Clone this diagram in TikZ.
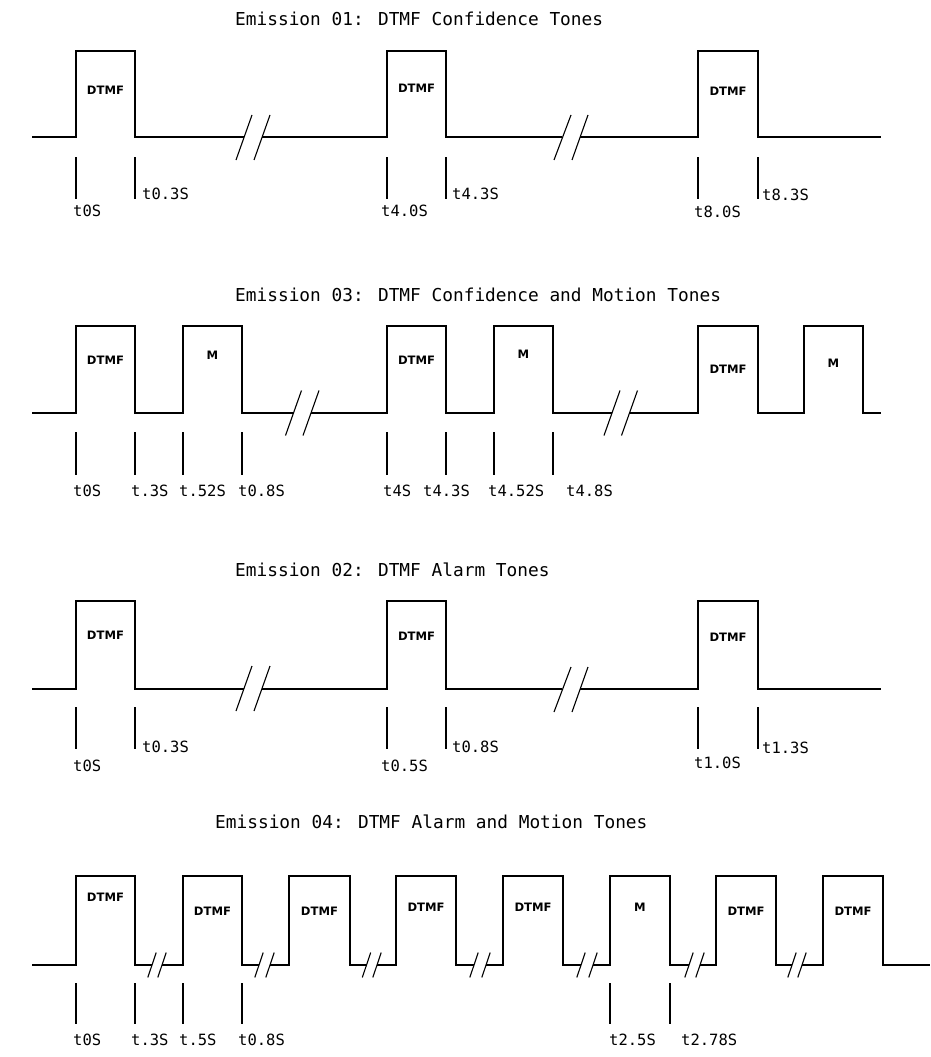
\documentclass[tikz,border=0pt]{standalone}
\usepackage{fontspec}
\usepackage{tikz}
\usetikzlibrary{positioning}
\newfontfamily\camfont{DejaVu Sans Mono}
\newfontfamily\tonefont{DejaVu Sans}

\begin{document}
\begin{tikzpicture}[
	x=1pt, y=-1pt,
	wave/.style={line width=1.1pt, line join=miter},
	edgeline/.style={line width=1.1pt},
	brk/.style={line width=1.1pt},
	title/.style={anchor=base west, inner sep=0pt, font=\camfont\fontsize{17.8}{20}\selectfont},
	time/.style={anchor=base west, inner sep=0pt, font=\camfont\fontsize{15.5}{18}\selectfont},
	tone/.style={inner sep=0pt, font=\tonefont\bfseries\fontsize{11.6}{13}\selectfont}
	]
	\useasboundingbox [fill=white] (0,0) rectangle (931,1057);

	% Emission 01
	\node [title] (titleA) at (235,26) {Emission 01: DTMF Confidence Tones};
	\draw [wave] (32,137) -- (76,137) -- (76,51) -- (135,51) -- (135,137) -- (244,137);
	\draw [wave] (262,137) -- (387,137) -- (387,51) -- (446,51) -- (446,137) -- (562,137);
	\draw [wave] (580,137) -- (698,137) -- (698,51) -- (758,51) -- (758,137) -- (881,137);
	\draw [brk] (236,160) -- (252,115);
	\draw [brk] (254,160) -- (270,115);
	\draw [brk] (554,160) -- (571,115);
	\draw [brk] (572,160) -- (588,115);
	\node [tone] (toneA1) at (105.5,90) {DTMF};
	\node [tone] (toneA2) at (416.5,88) {DTMF};
	\node [tone] (toneA3) at (728,91) {DTMF};
	\draw [edgeline] (76,157) -- (76,199);
	\draw [edgeline] (135,157) -- (135,199);
	\draw [edgeline] (387,157) -- (387,199);
	\draw [edgeline] (446,157) -- (446,199);
	\draw [edgeline] (698,157) -- (698,199);
	\draw [edgeline] (758,157) -- (758,199);
	\node [time] (tA1) at (73,216) {t0S};
	\node [time] (tA2) at (142,199) {t0.3S};
	\node [time] (tA3) at (381,216) {t4.0S};
	\node [time] (tA4) at (452,199) {t4.3S};
	\node [time] (tA5) at (694,217) {t8.0S};
	\node [time] (tA6) at (762,200) {t8.3S};

	% Emission 03
	\node [title] (titleB) at (235,301) {Emission 03: DTMF Confidence and Motion Tones};
	\draw [wave] (32,413) -- (76,413) -- (76,326) -- (135,326) -- (135,413) -- (183,413) -- (183,326) -- (242,326) -- (242,413) -- (293.5,413);
	\draw [wave] (311,413) -- (387,413) -- (387,326) -- (446,326) -- (446,413) -- (494,413) -- (494,326) -- (553,326) -- (553,413) -- (612,413);
	\draw [wave] (629.5,413) -- (698,413) -- (698,326) -- (758,326) -- (758,413) -- (804,413) -- (804,326) -- (863,326) -- (863,413) -- (881,413);
	\draw [brk] (285.5,435.5) -- (301.5,390.5);
	\draw [brk] (303,435.5) -- (319,390.5);
	\draw [brk] (604,435.5) -- (620,390.5);
	\draw [brk] (621.5,435.5) -- (637.5,390.5);
	\node [tone] (toneB1) at (105.5,360) {DTMF};
	\node [tone] (toneB2) at (212.5,355) {M};
	\node [tone] (toneB3) at (416.5,360) {DTMF};
	\node [tone] (toneB4) at (523.5,354) {M};
	\node [tone] (toneB5) at (728,369) {DTMF};
	\node [tone] (toneB6) at (833.5,363) {M};
	\draw [edgeline] (76,432) -- (76,475);
	\draw [edgeline] (135,432) -- (135,475);
	\draw [edgeline] (183,432) -- (183,475);
	\draw [edgeline] (242,432) -- (242,475);
	\draw [edgeline] (387,432) -- (387,475);
	\draw [edgeline] (446,432) -- (446,475);
	\draw [edgeline] (494,432) -- (494,475);
	\draw [edgeline] (553,432) -- (553,475);
	\node [time] (tB1) at (73,496) {t0S};
	\node [time] (tB2) at (131,496) {t.3S};
	\node [time] (tB3) at (179,496) {t.52S};
	\node [time] (tB4) at (238,496) {t0.8S};
	\node [time] (tB5) at (383,496) {t4S};
	\node [time] (tB6) at (423,496) {t4.3S};
	\node [time] (tB7) at (488,496) {t4.52S};
	\node [time] (tB8) at (566,496) {t4.8S};

	% Emission 02
	\node [title] (titleC) at (235,576) {Emission 02: DTMF Alarm Tones};
	\draw [wave] (32,689) -- (76,689) -- (76,601) -- (135,601) -- (135,689) -- (244,689);
	\draw [wave] (262,689) -- (387,689) -- (387,601) -- (446,601) -- (446,689) -- (562,689);
	\draw [wave] (580,689) -- (698,689) -- (698,601) -- (758,601) -- (758,689) -- (881,689);
	\draw [brk] (236,711) -- (252,666);
	\draw [brk] (254,711) -- (270,666);
	\draw [brk] (554,712) -- (571,667);
	\draw [brk] (572,712) -- (588,667);
	\node [tone] (toneC1) at (105.5,635) {DTMF};
	\node [tone] (toneC2) at (416.5,636) {DTMF};
	\node [tone] (toneC3) at (728,637) {DTMF};
	\draw [edgeline] (76,707) -- (76,749);
	\draw [edgeline] (135,707) -- (135,749);
	\draw [edgeline] (387,707) -- (387,749);
	\draw [edgeline] (446,707) -- (446,749);
	\draw [edgeline] (698,707) -- (698,749);
	\draw [edgeline] (758,707) -- (758,749);
	\node [time] (tC1) at (73,771) {t0S};
	\node [time] (tC2) at (142,752) {t0.3S};
	\node [time] (tC3) at (381,771) {t0.5S};
	\node [time] (tC4) at (452,752) {t0.8S};
	\node [time] (tC5) at (694,768) {t1.0S};
	\node [time] (tC6) at (762,753) {t1.3S};

	% Emission 04
	\node [title] (titleD) at (215,828) {Emission 04: DTMF Alarm and Motion Tones};
	\draw [wave] (32,965) -- (76,965) -- (76,876) -- (135,876) -- (135,965) -- (152,965);
	\draw [wave] (162,965) -- (183,965) -- (183,876) -- (242,876) -- (242,965) -- (259,965);
	\draw [wave] (270,965) -- (289,965) -- (289,876) -- (350,876) -- (350,965) -- (366.5,965);
	\draw [wave] (377,965) -- (396,965) -- (396,876) -- (456,876) -- (456,965) -- (474,965);
	\draw [wave] (486,965) -- (503,965) -- (503,876) -- (563,876) -- (563,965) -- (581,965);
	\draw [wave] (593,965) -- (610,965) -- (610,876) -- (670,876) -- (670,965) -- (689,965);
	\draw [wave] (700,965) -- (716,965) -- (716,876) -- (776,876) -- (776,965) -- (792,965);
	\draw [wave] (802,965) -- (823,965) -- (823,876) -- (883,876) -- (883,965) -- (930,965);
	\draw [brk] (147.8,977.5) -- (156.2,952.5);
	\draw [brk] (157.8,977.5) -- (166.2,952.5);
	\draw [brk] (254.8,977.5) -- (263.2,952.5);
	\draw [brk] (265.8,977.5) -- (274.2,952.5);
	\draw [brk] (362.3,977.5) -- (370.7,952.5);
	\draw [brk] (372.8,977.5) -- (381.2,952.5);
	\draw [brk] (469.8,977.5) -- (478.2,952.5);
	\draw [brk] (481.8,977.5) -- (490.2,952.5);
	\draw [brk] (576.8,977.5) -- (585.2,952.5);
	\draw [brk] (588.8,977.5) -- (597.2,952.5);
	\draw [brk] (684.8,977.5) -- (693.2,952.5);
	\draw [brk] (695.8,977.5) -- (704.2,952.5);
	\draw [brk] (787.8,977.5) -- (796.2,952.5);
	\draw [brk] (797.8,977.5) -- (806.2,952.5);
	\node [tone] (toneD1) at (105.5,897) {DTMF};
	\node [tone] (toneD2) at (212.5,911) {DTMF};
	\node [tone] (toneD3) at (319.5,911) {DTMF};
	\node [tone] (toneD4) at (426,907) {DTMF};
	\node [tone] (toneD5) at (533,907) {DTMF};
	\node [tone] (toneD6) at (640,907) {M};
	\node [tone] (toneD7) at (746,911) {DTMF};
	\node [tone] (toneD8) at (853,911) {DTMF};
	\draw [edgeline] (76,983) -- (76,1024);
	\draw [edgeline] (135,983) -- (135,1024);
	\draw [edgeline] (183,983) -- (183,1024);
	\draw [edgeline] (242,983) -- (242,1024);
	\draw [edgeline] (610,983) -- (610,1024);
	\draw [edgeline] (670,983) -- (670,1024);
	\node [time] (tD1) at (73,1045) {t0S};
	\node [time] (tD2) at (131,1045) {t.3S};
	\node [time] (tD3) at (179,1045) {t.5S};
	\node [time] (tD4) at (238,1045) {t0.8S};
	\node [time] (tD5) at (609,1045) {t2.5S};
	\node [time] (tD6) at (681,1045) {t2.78S};
\end{tikzpicture}
\end{document}
